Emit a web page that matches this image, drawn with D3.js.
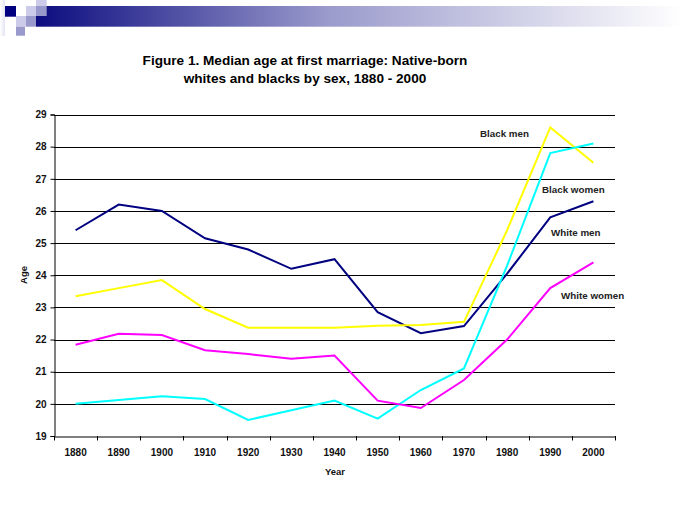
<!DOCTYPE html>
<html><head><meta charset="utf-8">
<script src="https://cdn.jsdelivr.net/npm/d3@7"></script>
<style>body{margin:0;background:#fff;}svg{display:block;font-family:"Liberation Sans",Arial,sans-serif;}</style>
</head><body><svg id="c" width="683" height="511"></svg>
<script>
const years = [1880,1890,1900,1910,1920,1930,1940,1950,1960,1970,1980,1990,2000];
const whiteMen   = [25.4, 26.2, 26.0, 25.15, 24.8, 24.2, 24.5, 22.85, 22.2, 22.42, 24.05, 25.8, 26.3];
const blackMen   = [23.35, 23.6, 23.85, 22.95, 22.37, 22.37, 22.37, 22.43, 22.45, 22.55, 25.4, 28.6, 27.5];
const blackWomen = [20.0, 20.12, 20.24, 20.15, 19.5, 19.8, 20.1, 19.54, 20.43, 21.1, 24.3, 27.8, 28.1];
const whiteWomen = [21.84, 22.18, 22.14, 21.67, 21.55, 21.4, 21.5, 20.1, 19.87, 20.74, 22.0, 23.6, 24.4];
const yTicks = [19,20,21,22,23,24,25,26,27,28,29];
const seriesNames = ["White men","Black men","Black women","White women"];
const seriesColors = ["#000080","#ffff00","#00ffff","#ff00ff"];
const seriesValues = [whiteMen, blackMen, blackWomen, whiteWomen];
const labelPos = [[551,236],[480,137],[542,193],[561,299]];

const svg = d3.select("#c");
// decorative header
const defs = svg.append("defs");
const g = defs.append("linearGradient").attr("id","hdr").attr("x1","0").attr("x2","1");
g.append("stop").attr("offset","0").attr("stop-color","#0c0c80");
g.append("stop").attr("offset","0.45").attr("stop-color","#9a9acc");
g.append("stop").attr("offset","1").attr("stop-color","#ffffff");
const lg = defs.append("linearGradient").attr("id","lft").attr("x1","0").attr("x2","1");
lg.append("stop").attr("offset","0").attr("stop-color","#fff");
lg.append("stop").attr("offset","1").attr("stop-color","#e4e4f2");
svg.append("rect").attr("x",0).attr("y",0).attr("width",5).attr("height",36).attr("fill","url(#lft)");
svg.append("rect").attr("x",36).attr("y",6).attr("width",647).attr("height",20.7).attr("fill","url(#hdr)");
const sq = [[5,6,11,10.7,"#000080"],[26,6,10,10,"#ccccea"],[36,0,10.7,6,"#ccccea"],[36,6,10.7,10,"#9999cc"],
            [16,16,10,10.7,"#ccccea"],[26,16,10,10.7,"#9999cc"],[16,26.7,9,9,"#9999cc"]];
sq.forEach(s=>svg.append("rect").attr("x",s[0]).attr("y",s[1]).attr("width",s[2]).attr("height",s[3]).attr("fill",s[4]));

// title
const t = svg.append("text").attr("text-anchor","middle").attr("font-weight","bold").attr("font-size",13.6).attr("fill","#000");
t.append("tspan").attr("x",305).attr("y",65).text("Figure 1. Median age at first marriage: Native-born");
t.append("tspan").attr("x",305).attr("y",83).text("whites and blacks by sex, 1880 - 2000");

const L=54, R=615, T=114.5, B=436;
const x = d3.scaleBand().domain(years).range([L,R]).padding(0);
const y = d3.scaleLinear().domain([19,29]).range([B,T]);

// gridlines
svg.append("g").selectAll("line").data(yTicks.slice(1)).join("line")
  .attr("x1",L).attr("x2",R).attr("y1",d=>Math.round(y(d))+0.5).attr("y2",d=>Math.round(y(d))+0.5)
  .attr("stroke","#000").attr("stroke-width",1);

// y axis
const ya = svg.append("g").attr("transform",`translate(${L+0.5},0)`)
  .call(d3.axisLeft(y).tickValues(yTicks).tickSize(4).tickPadding(4).tickFormat(d3.format("d")));
ya.select(".domain").attr("stroke","#000");
ya.selectAll(".tick line").attr("stroke","#000");
ya.selectAll("text").attr("font-size",10).attr("font-weight","bold").attr("fill","#111").attr("font-family","Liberation Sans, Arial, sans-serif");

// x axis
const xa = svg.append("g").attr("transform",`translate(0,${B+0.5})`)
  .call(d3.axisBottom(x).tickSize(0).tickPadding(12));
xa.select(".domain").attr("stroke","#000");
xa.selectAll("text").attr("font-size",10).attr("font-weight","bold").attr("fill","#111").attr("font-family","Liberation Sans, Arial, sans-serif");
const edges = years.map(d=>x(d)).concat([x(years[years.length-1])+x.bandwidth()]);
svg.append("g").selectAll("line").data(edges).join("line")
  .attr("x1",d=>Math.round(d)+0.5).attr("x2",d=>Math.round(d)+0.5).attr("y1",B).attr("y2",B+4.5)
  .attr("stroke","#000");

// lines
const line = d3.line().x((d,i)=>x(years[i])+x.bandwidth()/2).y(d=>y(d));
seriesValues.forEach((vals,k)=>{
  svg.append("path").datum(vals).attr("d",line).attr("fill","none")
    .attr("stroke",seriesColors[k]).attr("stroke-width",2).attr("stroke-linejoin","miter");
});

// series labels
seriesNames.forEach((n,k)=>{
  svg.append("text").attr("x",labelPos[k][0]).attr("y",labelPos[k][1]).attr("font-size",9.8)
    .attr("font-weight","bold").attr("fill","#222").text(n);
});

// axis titles
svg.append("text").attr("transform","translate(27,275) rotate(-90)").attr("text-anchor","middle")
  .attr("font-size",9.5).attr("font-weight","bold").attr("fill","#111").text("Age");
svg.append("text").attr("x",335).attr("y",475).attr("text-anchor","middle")
  .attr("font-size",9.5).attr("font-weight","bold").attr("fill","#111").text("Year");
</script></body></html>
